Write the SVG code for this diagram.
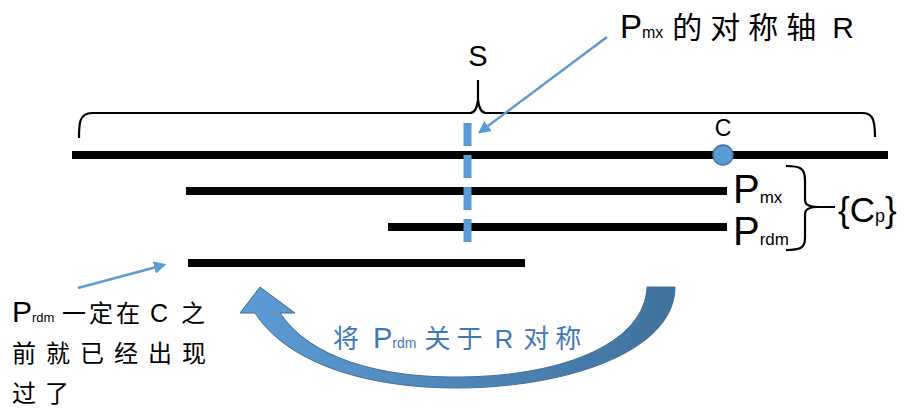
<svg xmlns="http://www.w3.org/2000/svg" width="906" height="409" viewBox="0 0 906 409">
<defs>
<style>
.seg{stroke:#000;stroke-width:8;fill:none}
.brace{stroke:#000;stroke-width:2.2;fill:none}
.t{font-family:"Liberation Sans","Noto Sans CJK SC",sans-serif;fill:#000}
.blue{stroke:#5b9bd5;stroke-width:2.5;fill:none}
</style>
<marker id="ah" viewBox="0 0 10 10" refX="8" refY="5" markerWidth="5" markerHeight="5" orient="auto" markerUnits="strokeWidth">
<path d="M0,0 L10,5 L0,10 z" fill="#5b9bd5"/>
</marker>
<linearGradient id="g" x1="0" y1="0" x2="1" y2="0">
<stop offset="0" stop-color="#5b9bd5"/>
<stop offset="1" stop-color="#41719c"/>
</linearGradient>
</defs>
<rect width="906" height="409" fill="#fff"/>
<g id="segments">
<line class="seg" x1="72" y1="155" x2="888" y2="155"/>
<line class="seg" x1="186" y1="191" x2="727" y2="191"/>
<line class="seg" x1="388" y1="227" x2="727" y2="227"/>
<line class="seg" x1="188" y1="263" x2="525" y2="263"/>
</g>
<g id="axis">
<line x1="467.5" y1="123" x2="467.5" y2="244" stroke="#5b9bd5" stroke-width="8" stroke-dasharray="23 9"/>
</g>
<g id="braceS">
<path class="brace" d="M79,138 C79,124 79,113 92,113 L470,113 C475,113 477,108 478,100 L478,80 M478,100 C479,108 481,113 486,113 L862,113 C872,113 875,118 875,137"/>
<text class="t" x="478" y="66" font-size="29" text-anchor="middle">S</text>
</g>
<g id="C">
<circle cx="723" cy="155" r="10" fill="#5b9bd5" stroke="#41719c" stroke-width="1.5"/>
<text class="t" x="723" y="136" font-size="23" text-anchor="middle">C</text>
</g>
<g id="labelR">
<text class="t" x="620" y="38" font-size="30"><tspan font-size="33">P</tspan><tspan font-size="16">mx</tspan><tspan dx="9" letter-spacing="8">的对称轴</tspan><tspan dx="8">R</tspan></text>
</g>
<g id="Pmx"><text class="t" x="733" y="203" font-size="40">P<tspan font-size="17">mx</tspan></text></g>
<g id="Prdm"><text class="t" x="733" y="245" font-size="40">P<tspan font-size="17">rdm</tspan></text></g>
<g id="Cp">
<path class="brace" d="M786,166 C800,166 805,168 805,180 L805,200 C805,205 810,207 818,207 L835,207 M818,207 C810,207 805,209 805,214 L805,238 C805,248 800,250 786,250"/>
<text class="t" x="838" y="222" font-size="35">{C<tspan font-size="18">p</tspan>}</text>
</g>
<g id="note">
<text class="t" x="12" y="322" font-size="30">P<tspan font-size="13">rdm</tspan></text>
<text class="t" x="62" y="322" font-size="24" letter-spacing="3">一定在</text>
<text class="t" x="150" y="322" font-size="25">C</text>
<text class="t" x="181" y="322" font-size="24">之</text>
<text class="t" x="12" y="362" font-size="24" letter-spacing="10">前就已经出现</text>
<text class="t" x="12" y="402" font-size="24" letter-spacing="9">过了</text>
</g>
<g id="connectors">
<line class="blue" x1="607" y1="37" x2="480" y2="132" marker-end="url(#ah)"/>
<line class="blue" x1="78" y1="288" x2="164" y2="265" marker-end="url(#ah)"/>
<path d="M647,287 L675,287 C675,352 565,388 457,388 C360,388 285,360 255,313 L240,313 L260,287 L295,313 L280,313 C310,358 380,378 460,377 C570,376 645,340 647,287 Z" fill="url(#g)" stroke="#41719c" stroke-width="1"/>
<text class="t" x="333" y="348" font-size="26" style="fill:#3f78b8">将<tspan dx="14" font-size="29">P</tspan><tspan font-size="14">rdm</tspan><tspan dx="8" letter-spacing="6">关于</tspan><tspan dx="6">R</tspan><tspan dx="10" letter-spacing="6">对称</tspan></text>
</g>
</svg>
